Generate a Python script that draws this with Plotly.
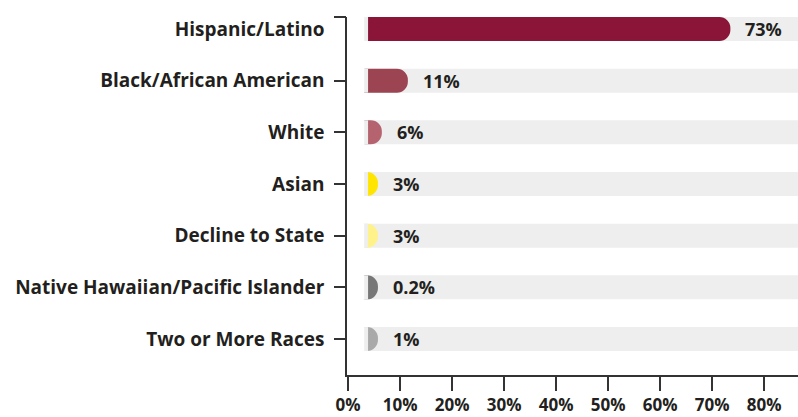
import plotly.graph_objects as go

categories = [
    "Hispanic/Latino",
    "Black/African American",
    "White",
    "Asian",
    "Decline to State",
    "Native Hawaiian/Pacific Islander",
    "Two or More Races",
]
values = [73, 11, 6, 3, 3, 0.2, 1]
colors = ["#8A1538", "#9C4451", "#B5636E", "#FFE500", "#FFF28A", "#777777", "#A9A9A9"]
x_ticks = [0, 10, 20, 30, 40, 50, 60, 70, 80]

X_RANGE = [-0.2, 86.5]
TRACK_START = 3.1
BAR_START = 3.85
ROUND_LEAD = 2.6      # hidden rounded lead-in left of the visible bar start
CAP = 0.5             # rounded end cap
MIN_LEN = 1.9
BAR_W = 0.464
Y_RANGE = [6.696, -0.232]

FONT = "Open Sans"
TXT = "#231F20"
AX = "#333333"
TRACK = "#EDEEED"

pos = list(range(len(categories)))
n = len(pos)
ends = [max(v + CAP, BAR_START + MIN_LEN) for v in values]

fig = go.Figure()
# background track
fig.add_trace(go.Bar(
    y=pos, x=[100 - TRACK_START] * n, base=TRACK_START, orientation="h",
    width=BAR_W, marker=dict(color=TRACK, line=dict(width=0)),
    hoverinfo="skip", showlegend=False,
))
# value bars (rounded)
fig.add_trace(go.Bar(
    y=pos, x=[e - (BAR_START - ROUND_LEAD) for e in ends], base=BAR_START - ROUND_LEAD,
    orientation="h", width=BAR_W,
    marker=dict(color=colors, line=dict(width=0), cornerradius=12),
    customdata=values, hovertemplate="%{customdata}%<extra></extra>", showlegend=False,
))
# covers for the lead-in so bars show a flat start
fig.add_trace(go.Bar(
    y=pos, x=[BAR_START - TRACK_START + 0.5] * n, base=TRACK_START - 0.5, orientation="h",
    width=BAR_W, marker=dict(color=TRACK, line=dict(width=0)),
    hoverinfo="skip", showlegend=False,
))
fig.add_trace(go.Bar(
    y=pos, x=[TRACK_START - X_RANGE[0]] * n, base=X_RANGE[0], orientation="h",
    width=BAR_W + 0.02, marker=dict(color="white", line=dict(width=0)),
    hoverinfo="skip", showlegend=False,
))
fig.add_trace(go.Scatter(x=[None], y=[None], yaxis="y2", showlegend=False, hoverinfo="skip"))

for p, e, v in zip(pos, ends, values):
    fig.add_annotation(
        x=e, y=p, text=f"<b>{v:g}%</b>", showarrow=False, xanchor="left",
        xshift=13, font=dict(family=FONT, size=18, color=TXT),
    )

fig.update_layout(
    width=798, height=417,
    margin=dict(l=347, r=0, t=17, b=42),
    paper_bgcolor="white", plot_bgcolor="white",
    barmode="overlay",
    font=dict(family=FONT, size=18, color=TXT),
    xaxis=dict(
        range=X_RANGE, tickvals=x_ticks, ticktext=[f"<b>{t}%</b>" for t in x_ticks],
        ticks="outside", ticklen=14, tickwidth=1.5, tickcolor=AX,
        showline=True, linecolor=AX, linewidth=1.5,
        showgrid=False, zeroline=False, automargin=False,
        tickfont=dict(family=FONT, size=17, color=TXT),
    ),
    yaxis=dict(
        range=Y_RANGE, tickvals=pos, ticktext=[f"<b>{c}</b>" for c in categories],
        ticks="", showline=True, linecolor=AX, linewidth=1.5,
        showgrid=False, zeroline=False, ticklabelstandoff=17, automargin=False,
        tickfont=dict(family=FONT, size=19, color=TXT),
    ),
    yaxis2=dict(
        range=Y_RANGE, overlaying="y", side="left", anchor="x",
        tickvals=[Y_RANGE[1] + 0.002] + pos[1:], ticks="outside", ticklen=12,
        tickwidth=1.5, tickcolor=AX, showticklabels=False, automargin=False,
        showline=False, showgrid=False, zeroline=False,
    ),
)

fig.write_html(
    "out.html",
    config={"displayModeBar": False},
    post_script="document.body.style.margin='0';document.body.style.overflow='hidden';",
)
